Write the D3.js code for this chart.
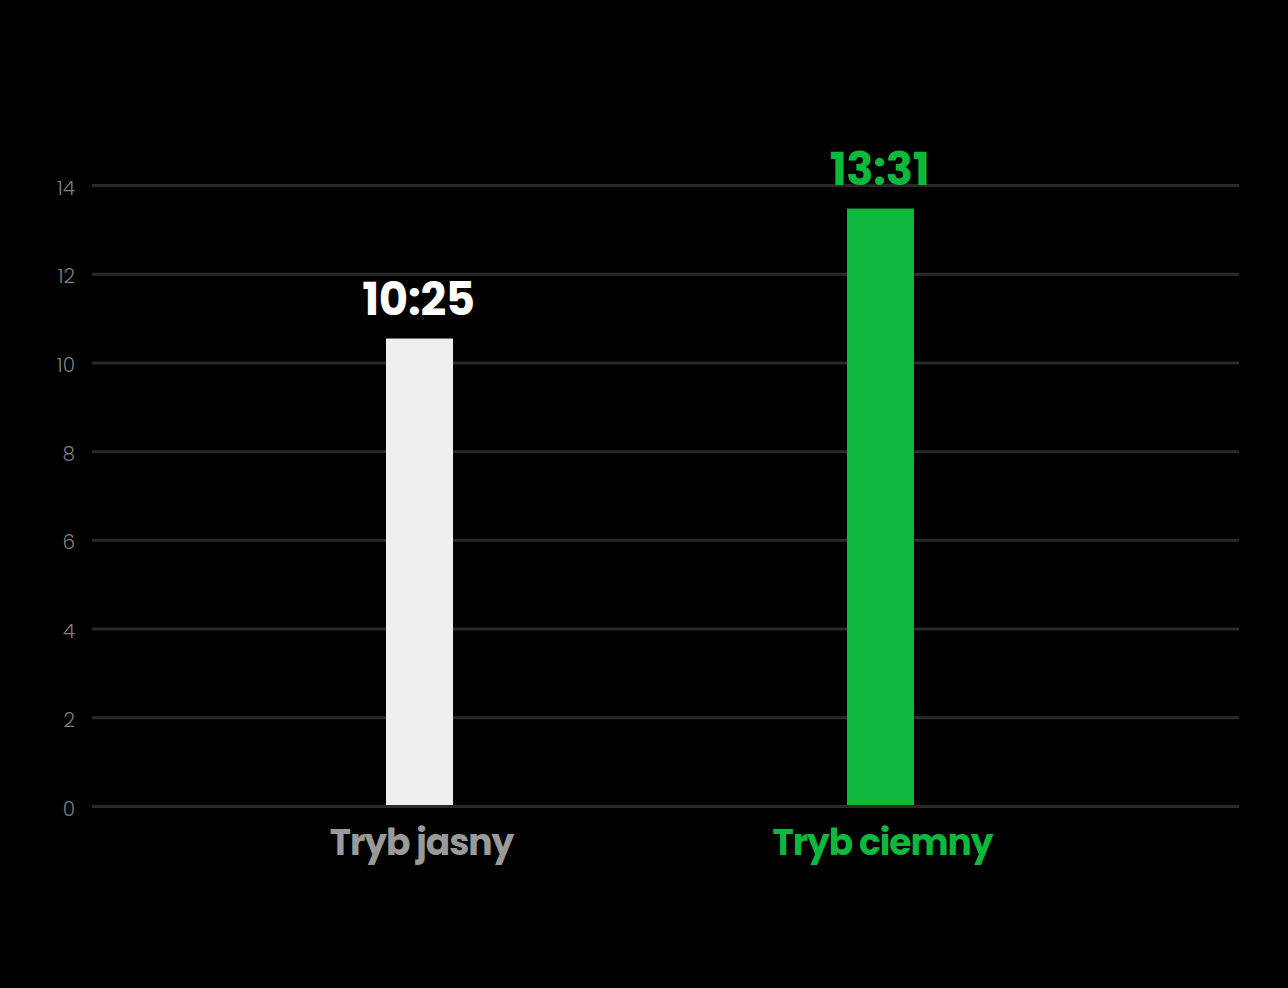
<!DOCTYPE html>
<html><head><meta charset="utf-8">
<script src="https://cdn.jsdelivr.net/npm/d3@7"></script>
<style>html,body{margin:0;padding:0;background:#000;}svg{display:block;}</style>
</head><body>
<svg id="chart" width="1288" height="988"></svg>
<script>
const categories = ["Tryb jasny", "Tryb ciemny"];
const values = [10.55, 13.48];
const valueLabels = ["10:25", "13:31"];
const yTicks = [0, 2, 4, 6, 8, 10, 12, 14];
const barColors = ["#efefef", "#0db83c"];
const labelColors = ["#ffffff", "#0db83c"];
const catColors = ["#9a9a9a", "#0db83c"];

const svg = d3.select("#chart");
svg.append("rect").attr("width",1288).attr("height",988).attr("fill","#000");

const y = d3.scaleLinear().domain([0,14]).range([806.5,185.5]);
const x = d3.scaleBand().domain(categories).range([189,1111]).padding(0);
const barW = 67;
const font = "Poppins, Inter, 'Noto Sans', sans-serif";

// grid
svg.append("g").selectAll("line").data(yTicks).join("line")
  .attr("x1",92).attr("x2",1239)
  .attr("y1",d=>y(d)).attr("y2",d=>y(d))
  .attr("stroke","#2a2a2a").attr("stroke-width",3);

// y tick labels
svg.append("g").selectAll("text").data(yTicks).join("text")
  .attr("x",75).attr("y",d=>y(d)+2).attr("dy","0.35em")
  .attr("text-anchor","end")
  .attr("font-family",font).attr("font-weight",300).attr("font-size",20)
  .attr("fill","#7e7e7e").text(d=>d);

// bars
svg.append("g").selectAll("rect").data(values).join("rect")
  .attr("x",(d,i)=>x(categories[i])+x.bandwidth()/2-barW/2)
  .attr("width",barW)
  .attr("y",d=>y(d))
  .attr("height",d=>y(0)-1.5-y(d))
  .attr("fill",(d,i)=>barColors[i]);

// value labels
svg.append("g").selectAll("text").data(values).join("text")
  .attr("x",(d,i)=>x(categories[i])+x.bandwidth()/2-1)
  .attr("y",d=>y(d)-24)
  .attr("text-anchor","middle")
  .attr("font-family",font).attr("font-weight",700).attr("font-size",45)
  .attr("letter-spacing","-0.3")
  .attr("fill",(d,i)=>labelColors[i]).text((d,i)=>valueLabels[i]);

// category labels
svg.append("g").selectAll("text").data(categories).join("text")
  .attr("x",(d,i)=>x(d)+x.bandwidth()/2+2)
  .attr("y",855)
  .attr("text-anchor","middle")
  .attr("font-family",font).attr("font-weight",700).attr("font-size",36)
  .attr("letter-spacing","-1")
  .attr("fill",(d,i)=>catColors[i]).text(d=>d);
</script>
</body></html>
